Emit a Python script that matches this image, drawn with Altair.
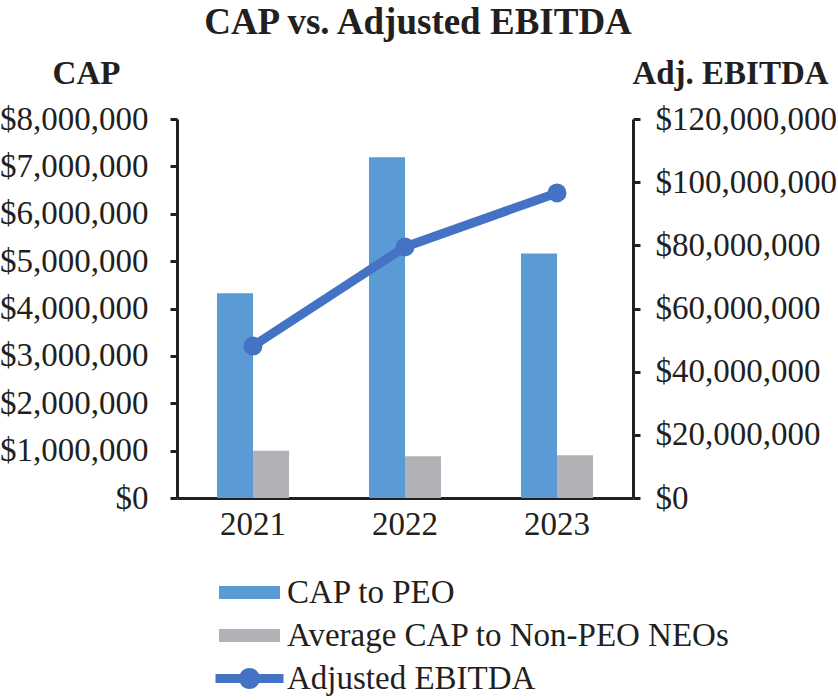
import altair as alt
import pandas as pd

years = ["2021", "2022", "2023"]
cap_peo = [4320000, 7190000, 5160000]
cap_non_peo = [1000000, 880000, 900000]
adj_ebitda = [48100000, 79500000, 96600000]
series_names = ["CAP to PEO", "Average CAP to Non-PEO NEOs", "Adjusted EBITDA"]
colors = ["#5B9BD5", "#B1B2B5", "#4472C4"]

FONT = "Liberation Serif"
FS = 33
INK = "#231f20"

bars = pd.DataFrame({
    "year": years * 2,
    "series": [series_names[0]] * 3 + [series_names[1]] * 3,
    "value": cap_peo + cap_non_peo,
})
line = pd.DataFrame({"year": years, "series": series_names[2], "value": adj_ebitda})
allv = pd.concat([bars, line], ignore_index=True)

xscale = alt.Scale(domain=years, paddingInner=0.526, paddingOuter=0.263)
xaxis = alt.Axis(title=None, labelAngle=0, ticks=False, labelFont=FONT, labelFontSize=FS,
                 labelColor=INK, domainColor=INK, domainWidth=3, labelPadding=10)

rect_path = "M-3.05,-0.65H3.05V0.65H-3.05Z"
line_path = "M-3.4,-0.45H3.4V0.45H-3.4Z M-1.05,0A1.05,1.05 0 1,1 1.05,0A1.05,1.05 0 1,1 -1.05,0Z"

legend = alt.Legend(title=None, orient="none", legendX=56, legendY=457, padding=0,
                    labelFont=FONT, labelFontSize=FS, labelColor=INK, labelOffset=21,
                    symbolSize=400, symbolStrokeWidth=0, symbolOpacity=1, rowPadding=9,
                    labelLimit=700)

color_enc = alt.Color("series:N", scale=alt.Scale(domain=series_names, range=colors), legend=legend)

bar_layer = alt.Chart(bars).mark_bar().encode(
    x=alt.X("year:N", scale=xscale, axis=xaxis),
    xOffset=alt.XOffset("series:N", sort=series_names[:2],
                        scale=alt.Scale(domain=series_names[:2], paddingInner=0, paddingOuter=0)),
    y=alt.Y("value:Q", scale=alt.Scale(domain=[0, 8000000], nice=False),
            axis=alt.Axis(title="CAP", titleAngle=0, titleX=-91, titleY=-36, titleAlign="center",
                          titleBaseline="alphabetic", titleFont=FONT, titleFontSize=FS,
                          titleFontWeight="bold", titleColor=INK,
                          format="$,.0f", values=list(range(0, 8000001, 1000000)),
                          labelFont=FONT, labelFontSize=FS, labelColor=INK, labelLimit=400,
                          grid=False, domainColor=INK, domainWidth=3,
                          tickColor=INK, tickWidth=3, tickSize=7, labelPadding=22)),
    color=color_enc,
)

ebitda_axis = alt.Axis(title="Adj. EBITDA", orient="right", titleAngle=0, titleX=97, titleY=-36,
                       titleAlign="center", titleBaseline="alphabetic", titleFont=FONT,
                       titleFontSize=FS, titleFontWeight="bold", titleColor=INK,
                       format="$,.0f", values=list(range(0, 120000001, 20000000)),
                       labelFont=FONT, labelFontSize=FS, labelColor=INK, labelLimit=400,
                       grid=False, domainColor=INK, domainWidth=3,
                       tickColor=INK, tickWidth=3, tickSize=7, labelPadding=15)

line_layer = alt.Chart(line).mark_line(
    color=colors[2], strokeWidth=9,
    point=alt.OverlayMarkDef(filled=True, size=360, color=colors[2]),
).encode(
    x=alt.X("year:N", scale=xscale, axis=xaxis),
    y=alt.Y("value:Q", scale=alt.Scale(domain=[0, 120000000], nice=False), axis=ebitda_axis),
)

legend_layer = alt.Chart(allv).mark_point(filled=True, opacity=0).encode(
    x=alt.X("year:N", scale=xscale, axis=xaxis),
    y=alt.value(0),
    color=color_enc,
    shape=alt.Shape("series:N", scale=alt.Scale(domain=series_names,
                                                range=[rect_path, rect_path, line_path]),
                    legend=legend),
)

chart = alt.layer(bar_layer, legend_layer, line_layer).resolve_scale(
    y="independent"
).properties(
    width=456, height=379,
    background="white",
    autosize=alt.AutoSizeParams(type="none"),
    padding={"left": 177, "top": 119, "right": 205, "bottom": 202},
    title=alt.TitleParams("CAP vs. Adjusted EBITDA", font=FONT, fontSize=37, fontWeight="bold",
                          color=INK, anchor="middle", offset=15, dx=13),
).configure_view(stroke=None)

chart.save("out.html", embed_options={"renderer": "svg", "actions": False})
